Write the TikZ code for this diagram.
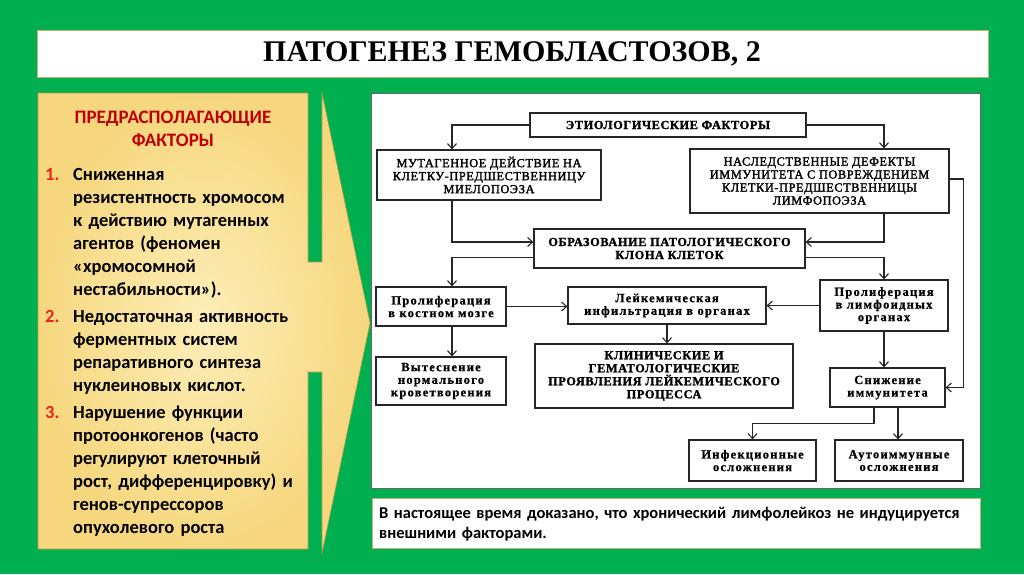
\documentclass[tikz,border=0pt]{standalone}
\usepackage{fontspec}
\setmainfont{Liberation Serif}
\newfontfamily\calfont{Carlito}
\newfontfamily\fcfont[LetterSpace=5,FakeBold=2]{Liberation Serif}
\newfontfamily\fcbfont[LetterSpace=5,FakeBold=1.5]{Liberation Serif Bold}
\newfontfamily\fclfont[LetterSpace=10,FakeBold=0.8]{Liberation Serif Bold}
\usetikzlibrary{arrows.meta,calc}
\definecolor{bggreen}{HTML}{00B050}
\definecolor{tanline}{HTML}{C8B07A}
\definecolor{headred}{HTML}{C00000}
\definecolor{numred}{HTML}{E8231F}
\definecolor{yinner}{HTML}{FDEEB8}
\definecolor{youter}{HTML}{F6D77E}
\definecolor{yline}{HTML}{B89848}
\tikzset{
  fcbox/.style={draw=black!85, line width=1.2pt, fill=white, align=center, inner sep=0pt},
  capsbox/.style={fcbox, font=\fcfont\fontsize{12.3}{13}\selectfont},
  boldbox/.style={fcbox, font=\fcbfont\fontsize{12.3}{13}\selectfont},
  lowbox/.style={fcbox, font=\fclfont\fontsize{12.5}{12.6}\selectfont},
  arr/.style={-{Straight Barb[length=5pt,width=9pt]}, line width=1.1pt, draw=black!85},
  listtext/.style={anchor=base west, inner sep=0pt, text width=234pt, align=left,
    font=\calfont\bfseries\fontsize{18.5}{23}\selectfont},
  numtext/.style={anchor=base west, inner sep=0pt, text=numred,
    font=\calfont\bfseries\fontsize{18.5}{23}\selectfont}
}
\begin{document}
\begin{tikzpicture}[x=1pt,y=-1pt]
\fill[bggreen] (0,0) rectangle (1024,574);
\useasboundingbox (0,0) rectangle (1024,574);

% title
\node[draw=tanline, line width=1pt, fill=white, minimum width=951pt, minimum height=47pt,
  inner sep=0pt] (title) at (512.5,53.5) {};
\node[font=\bfseries\fontsize{30}{34}\selectfont] (titletext) at (512,53.5) {ПАТОГЕНЕЗ ГЕМОБЛАСТОЗОВ, 2};

% yellow arrow callout
\path[draw=yline, line width=0.6pt, inner color=yinner, outer color=youter]
  (38,93) -- (308,93) -- (308,262) -- (322,262) -- (322,93) -- (370,323)
  -- (322,553) -- (322,372) -- (308,372) -- (308,549) -- (38,549) -- cycle;

\node[font=\calfont\bfseries\fontsize{19}{23}\selectfont, text=headred, align=center]
  (head) at (173,129) {ПРЕДРАСПОЛАГАЮЩИЕ\\ФАКТОРЫ};

\node[numtext] (n1) at (45,180) {1.};
\node[listtext] (t1) at (73,180) {Сниженная\\резистентность хромосом\\к действию мутагенных\\агентов (феномен\\«хромосомной\\нестабильности»).};
\node[numtext] (n2) at (45,322) {2.};
\node[listtext] (t2) at (73,322) {Недостаточная активность\\ферментных систем\\репаративного синтеза\\нуклеиновых кислот.};
\node[numtext] (n3) at (45,418) {3.};
\node[listtext] (t3) at (73,418) {Нарушение функции\\протоонкогенов (часто\\регулируют клеточный\\рост, дифференцировку) и\\генов-супрессоров\\опухолевого роста};

% white panel
\node[draw=black!60, line width=0.8pt, fill=white, minimum width=609pt, minimum height=395pt,
  inner sep=0pt] (panel) at (675.5,290.5) {};

% note
\node[draw=tanline, line width=1pt, fill=white, minimum width=608pt, minimum height=50pt,
  inner sep=0pt] (note) at (676,523) {};
\node[anchor=base west, inner sep=0pt, text width=600pt, align=left,
  font=\calfont\bfseries\fontsize{16.5}{19.5}\selectfont] (notetext) at (379,518.5)
  {В настоящее время доказано, что хронический лимфолейкоз не индуцируется\\внешними факторами.};

% flowchart nodes
\node[boldbox, minimum width=276pt, minimum height=24pt] (etiol) at (668,125) {ЭТИОЛОГИЧЕСКИЕ ФАКТОРЫ};
\node[capsbox, minimum width=224pt, minimum height=50pt] (mut) at (489,175) {МУТАГЕННОЕ ДЕЙСТВИЕ НА\\КЛЕТКУ-ПРЕДШЕСТВЕННИЦУ\\МИЕЛОПОЭЗА};
\node[capsbox, minimum width=259pt, minimum height=64pt] (nasl) at (819.5,181) {НАСЛЕДСТВЕННЫЕ ДЕФЕКТЫ\\ИММУНИТЕТА С ПОВРЕЖДЕНИЕМ\\КЛЕТКИ-ПРЕДШЕСТВЕННИЦЫ\\ЛИМФОПОЭЗА};
\node[boldbox, minimum width=271pt, minimum height=39pt] (obraz) at (669.5,248.5) {ОБРАЗОВАНИЕ ПАТОЛОГИЧЕСКОГО\\КЛОНА КЛЕТОК};
\node[lowbox, minimum width=130pt, minimum height=39pt] (prolB) at (441,306.5) {Пролиферация\\в костном мозге};
\node[lowbox, minimum width=198pt, minimum height=37pt] (leuk) at (667,305.5) {Лейкемическая\\инфильтрация в органах};
\node[lowbox, minimum width=128pt, minimum height=51pt] (prolL) at (884,305.5) {Пролиферация\\в лимфоидных\\органах};
\node[lowbox, minimum width=130pt, minimum height=48pt] (vyt) at (441,381) {Вытеснение\\нормального\\кроветворения};
\node[boldbox, minimum width=258pt, minimum height=64pt] (clin) at (664,376) {КЛИНИЧЕСКИЕ И\\ГЕМАТОЛОГИЧЕСКИЕ\\ПРОЯВЛЕНИЯ ЛЕЙКЕМИЧЕСКОГО\\ПРОЦЕССА};
\node[lowbox, minimum width=115pt, minimum height=39pt] (sniz) at (887.5,387.5) {Снижение\\иммунитета};
\node[lowbox, minimum width=127pt, minimum height=41pt] (inf) at (752.5,460.5) {Инфекционные\\осложнения};
\node[lowbox, minimum width=128pt, minimum height=41pt] (auto) at (899,460.5) {Аутоиммунные\\осложнения};

\coordinate (cL) at (452,0);
\coordinate (cR) at (884,0);

% connectors
\draw[arr] (etiol.west) -| (cL |- mut.north);
\draw[arr] (etiol.east) -| (cR |- nasl.north);
\draw[arr] (cL |- mut.south) |- ([yshift=6.5pt]obraz.west);
\draw[arr] (cR |- nasl.south) |- ([yshift=6.5pt]obraz.east);
\draw[arr] ([yshift=-9pt]obraz.west) -| (cL |- prolB.north);
\draw[arr] ([yshift=-9pt]obraz.east) -| (cR |- prolL.north);
\draw[arr] (prolB.east) -- (prolB.east -| leuk.west);
\draw[arr] (prolL.west) -- (prolL.west -| leuk.east);
\draw[arr] (cL |- prolB.south) -- (cL |- vyt.north);
\draw[arr] (leuk.south) -- (leuk.south |- clin.north);
\draw[arr] (cR |- prolL.south) -- (cR |- sniz.north);
\draw[arr] ([yshift=2pt]nasl.east) -- ++(14,0) |- (sniz.east);
\draw[arr] ([xshift=-13.5pt]sniz.south) -- ++(0,16) -| (inf.north);
\draw[arr] ([xshift=10.5pt]sniz.south) -- ([xshift=10.5pt]sniz.south |- auto.north);
\end{tikzpicture}
\end{document}
